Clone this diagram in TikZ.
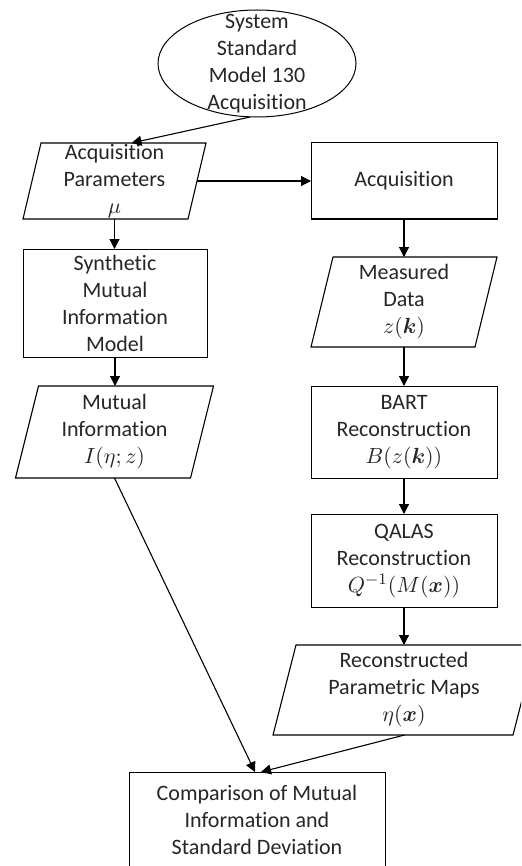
\documentclass[tikz,border=0pt]{standalone}
\usepackage{amsmath}
\usepackage{fontspec}
\setmainfont{Carlito}[Ligatures={NoCommon,NoContextual}, Contextuals=NoAlternate]
\usetikzlibrary{arrows.meta,shapes.geometric}
\definecolor{txtgray}{HTML}{262626}
\begin{document}
\begin{tikzpicture}[x=0.5pt,y=-0.5pt,
  every node/.style={inner sep=0pt, outer sep=0pt},
  txt/.style={font=\fontsize{11}{13.5}\selectfont, align=center, text=txtgray},
  shp/.style={rectangle},
  box/.style={draw, line width=0.5pt, rectangle},
  edge/.style={line width=0.55pt},
  arr/.style={line width=0.55pt, -{Triangle[length=5pt,width=5pt]}}]
\clip (0,0) rectangle (521,866);
\fill[white] (0,0) rectangle (521,866);
% ellipse
\node[ellipse, draw, line width=0.5pt, minimum width=99pt, minimum height=53.5pt] (ell) at (257,63.5) {};
\node[txt] (ellt) at (257,63.5) {System\\Standard\\Model 130\\Acquisition};
% acquisition parameters
\node[shp, minimum width=91.5pt, minimum height=38pt] (ap) at (114.5,181) {};
\draw[edge] ([xshift=9pt]ap.north west) -- (ap.north east) -- ([xshift=-9pt]ap.south east) -- (ap.south west) -- cycle;
\node[txt] (apt) at (114.5,181) {Acquisition\\Parameters\\$\mu$};
% acquisition
\node[box, minimum width=93pt, minimum height=38pt] (acq) at (404,181) {};
\node[txt] (acqt) at (404,181) {Acquisition};
% synthetic MI model
\node[box, minimum width=92pt, minimum height=54pt] (smim) at (115,303) {};
\node[txt] (smimt) at (115,303) {Synthetic\\Mutual\\Information\\Model};
% measured data
\node[shp, minimum width=93pt, minimum height=45pt] (md) at (404,302) {};
\draw[edge] ([xshift=11pt]md.north west) -- (md.north east) -- ([xshift=-11pt]md.south east) -- (md.south west) -- cycle;
\node[txt] (mdt) at (404,302) {Measured\\Data\\$z(\boldsymbol{k})$};
% mutual information
\node[shp, minimum width=99pt, minimum height=46pt] (mi) at (114.5,432) {};
\draw[edge] ([xshift=11.5pt]mi.north west) -- (mi.north east) -- ([xshift=-11.5pt]mi.south east) -- (mi.south west) -- cycle;
\node[txt] (mit) at (114.5,432) {Mutual\\Information\\$I(\eta;z)$};
% BART
\node[box, minimum width=93pt, minimum height=46pt] (bart) at (404,432) {};
\node[txt] (bartt) at (404,432) {BART\\Reconstruction\\$B(z(\boldsymbol{k}))$};
% QALAS
\node[box, minimum width=93pt, minimum height=46.5pt] (qalas) at (404,560.5) {};
\node[txt] (qalast) at (404,561) {QALAS\\Reconstruction\\$Q^{-1}(M(\boldsymbol{x}))$};
% reconstructed maps
\node[shp, minimum width=131.5pt, minimum height=45pt] (recon) at (404.5,690) {};
\draw[edge] ([xshift=11.5pt]recon.north west) -- (recon.north east) -- ([xshift=-11.5pt]recon.south east) -- (recon.south west) -- cycle;
\node[txt] (recont) at (404,690) {Reconstructed\\Parametric Maps\\$\eta(\boldsymbol{x})$};
% comparison
\node[box, minimum width=128pt, minimum height=48pt] (comp) at (257,820) {};
\node[txt] (compt) at (257,820) {Comparison of Mutual\\Information and\\Standard Deviation};
% connectors
\draw[arr] ([xshift=-3.5pt]ell.south) -- ([xshift=8.5pt]ap.north);
\draw[arr] ([xshift=-4.5pt]ap.east) -- (acq.west);
\draw[arr] (ap.south) -- (ap.south |- smim.north);
\draw[arr] (smim.south) -- (smim.south |- mi.north);
\draw[arr] (acq.south) -- (md.north);
\draw[arr] (md.south) -- (bart.north);
\draw[arr] (bart.south) -- (qalas.north);
\draw[arr] (qalas.south) -- (qalas.south |- recon.north);
\draw[arr] (mi.south) -- ([xshift=-1pt]comp.north);
\draw[arr] (recon.south) -- ([xshift=2pt]comp.north);
\end{tikzpicture}
\end{document}
